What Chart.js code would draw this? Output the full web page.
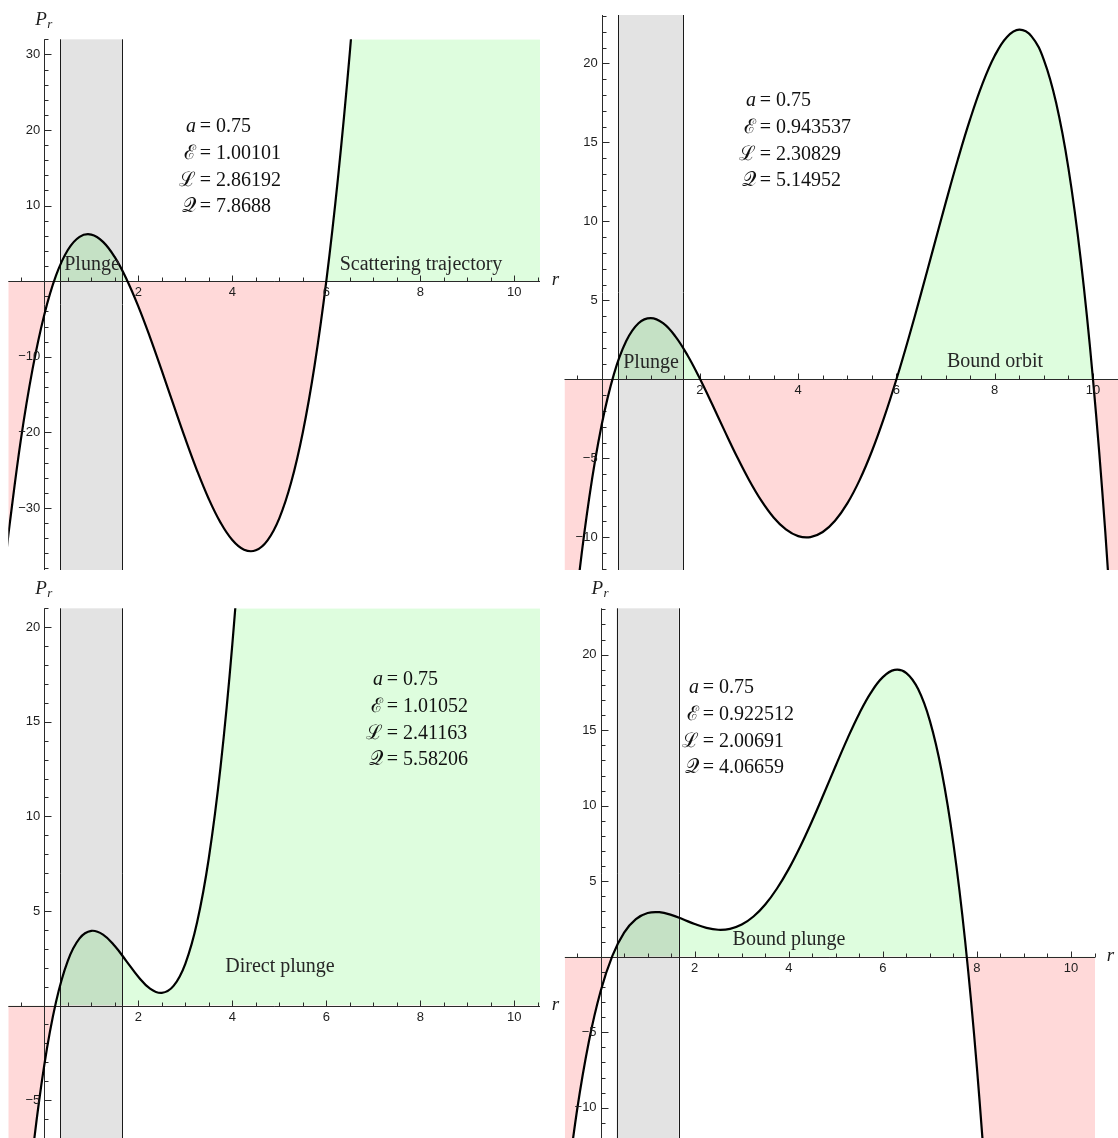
<!DOCTYPE html>
<html>
<head>
<meta charset="utf-8">
<script src="https://cdn.jsdelivr.net/npm/chart.js@4.4.1/dist/chart.umd.min.js"></script>
<style>
  html, body { margin: 0; padding: 0; background: #fff; overflow: hidden; width: 1118px; height: 1138px; }
  canvas { position: absolute; }
</style>
</head>
<body>
<canvas id="tl"></canvas>
<canvas id="tr"></canvas>
<canvas id="bl"></canvas>
<canvas id="br"></canvas>
<script>
// ---------------------------------------------------------------
// data: radial potential P_r(r)
// ---------------------------------------------------------------
const rTL = [-0.8, -0.75, -0.5, -0.25, 0, 0.25, 0.5, 0.75, 1, 1.25, 1.5, 1.75, 2, 2.25, 2.5, 2.75, 3, 3.25, 3.5, 3.75,
  4, 4.25, 4.5, 4.75, 5, 5.25, 5.5, 5.75, 6, 6.25, 6.5, 6.75, 7, 8, 9, 10, 10.6];
const pTL = [-35.448, -32.791, -21.016, -11.624, -4.426, 0.764, 4.135, 5.874, 6.169, 5.209, 3.180, 0.273, -3.324, -7.422,
  -11.832, -16.365, -20.832, -25.042, -28.806, -31.933, -34.234, -35.518, -35.595, -34.273, -31.361, -26.669, -20.005,
  -11.177, 0.006, 13.736, 30.206, 49.608, 72.133, 197.34, 387.98, 656.48, 860.12];

const rTR = [-0.8, -0.75, -0.5, -0.25, 0, 0.25, 0.5, 0.75, 1, 1.25, 1.5, 1.75, 2, 2.25, 2.5, 2.75, 3, 3.25, 3.5, 3.75,
  4, 4.25, 4.5, 4.75, 5, 5.25, 5.5, 5.75, 6, 6.25, 6.5, 6.75, 7, 7.25, 7.5, 7.75, 8, 8.25, 8.5, 8.75, 9, 9.25, 9.5,
  9.75, 10, 10.25, 10.5, 10.6];
const pTR = [-23.049, -21.271, -13.500, -7.443, -2.897, 0.331, 2.423, 3.551, 3.877, 3.553, 2.719, 1.506, 0.036, -1.581,
  -3.247, -4.870, -6.371, -7.681, -8.742, -9.502, -9.928, -9.988, -9.666, -8.953, -7.854, -6.380, -4.555, -2.413,
  0.002, 2.635, 5.424, 8.290, 11.151, 13.912, 16.465, 18.696, 20.477, 21.674, 22.135, 21.709, 20.225, 17.500, 13.365,
  7.602, 0.010, -9.632, -21.550, -27.009];

const rBL = [-0.8, -0.75, -0.5, -0.25, 0, 0.25, 0.5, 0.75, 1, 1.25, 1.5, 1.75, 2, 2.25, 2.5, 2.75, 3, 3.25, 3.5, 3.75,
  4, 4.25, 4.5, 5, 6, 8, 10, 10.6];
const pBL = [-23.888, -22.068, -14.088, -7.841, -3.140, 0.201, 2.369, 3.555, 3.951, 3.750, 3.147, 2.339, 1.523, 0.899,
  0.671, 1.040, 2.210, 4.390, 7.787, 12.612, 19.075, 27.389, 37.771, 65.60, 155.70, 524.36, 1244.8, 1548.3];

const rBR = [-0.8, -0.75, -0.5, -0.25, 0, 0.25, 0.5, 0.75, 1, 1.25, 1.5, 1.75, 2, 2.25, 2.5, 2.75, 3, 3.25, 3.5, 3.75,
  4, 4.25, 4.5, 4.75, 5, 5.25, 5.5, 5.75, 6, 6.25, 6.5, 6.75, 7, 7.25, 7.5, 7.75, 8, 8.25, 8.5, 9, 10, 10.6];
const pBR = [-17.433, -16.064, -10.148, -5.625, -2.287, 0.060, 1.599, 2.494, 2.898, 2.950, 2.774, 2.480, 2.166, 1.912,
  1.788, 1.848, 2.131, 2.665, 3.461, 4.518, 5.819, 7.336, 9.023, 10.823, 12.665, 14.461, 16.113, 17.506, 18.513,
  18.990, 18.782, 17.720, 15.618, 12.279, 7.490, 1.026, -7.355, -17.905, -30.894, -65.33, -176.82, -278.46];

// horizons r- and r+ for a = 0.75 (grey band)
const horizonInner = 0.339;
const horizonOuter = 1.661;

// tick labels
const xTicks = [2, 4, 6, 8, 10];
const yTicksTL = [-30, -20, -10, 10, 20, 30];
const yTicksTR = [-10, -5, 5, 10, 15, 20];
const yTicksBL = [-5, 5, 10, 15, 20];
const yTicksBR = [-10, -5, 5, 10, 15, 20];

// parameter boxes and region labels
const paramsTL = ['0.75', '1.00101', '2.86192', '7.8688'];
const paramsTR = ['0.75', '0.943537', '2.30829', '5.14952'];
const paramsBL = ['0.75', '1.01052', '2.41163', '5.58206'];
const paramsBR = ['0.75', '0.922512', '2.00691', '4.06659'];
const regionsTL = ['Plunge', 'Scattering trajectory'];
const regionsTR = ['Plunge', 'Bound orbit'];
const regionsBL = ['Direct plunge'];
const regionsBR = ['Bound plunge'];

// ---------------------------------------------------------------
// layout of the four panels (page pixels)
// ---------------------------------------------------------------
const GREEN = 'rgb(222,253,222)';
const PINK = 'rgb(255,217,217)';
const SERIF = '"Liberation Serif", "DejaVu Serif", serif';
const SANS = '"Liberation Sans", Arial, sans-serif';
const SYMBOLS = ['a', '\u2130', '\u2112', '\u{1D4AC}'];

const panels = [
  { id: 'tl', left: 0, top: 0, w: 570, h: 570, pad: { left: 8.3, right: 30, top: 39.3, bottom: 0 },
    xr: [-0.766, 10.547], yr: [-38.2, 32], r: rTL, p: pTL, yTicks: yTicksTL, yMinor: 2,
    params: paramsTL, px: 187, py: 127, regions: regionsTL, rpos: [[92, 265], [421, 265]], showP: true, showR: true },
  { id: 'tr', left: 559, top: 0, w: 562, h: 570, pad: { left: 5.5, right: 1, top: 15, bottom: 0 },
    xr: [-0.756, 10.55], yr: [-12.07, 23.06], r: rTR, p: pTR, yTicks: yTicksTR, yMinor: 1,
    params: paramsTR, px: 747, py: 101, regions: regionsTR, rpos: [[651, 363], [995, 362]], showP: false, showR: false },
  { id: 'bl', left: 0, top: 570, w: 570, h: 568, pad: { left: 8.3, right: 30, top: 38.3, bottom: 0 },
    xr: [-0.766, 10.547], yr: [-7.0, 21.0], r: rBL, p: pBL, yTicks: yTicksBL, yMinor: 1,
    params: paramsBL, px: 374, py: 680, regions: regionsBL, rpos: [[280, 967]], showP: true, showR: true },
  { id: 'br', left: 559, top: 570, w: 562, h: 568, pad: { left: 5.85, right: 26, top: 38.3, bottom: 0 },
    xr: [-0.76, 10.51], yr: [-12.0, 23.07], r: rBR, p: pBR, yTicks: yTicksBR, yMinor: 1,
    params: paramsBR, px: 690, py: 688, regions: regionsBR, rpos: [[789, 940]], showP: true, showR: true }
];

function fmt(v) {
  return v < 0 ? '\u2212' + Math.abs(v) : String(v);
}

function makePlugin(panel) {
  return {
    id: 'potential_' + panel.id,
    // grey band between the horizons, and the axes, under the curve
    beforeDatasetDraw(chart, args) {
      if (args.index !== 0) return;
      const { ctx, chartArea: a, scales: { x, y } } = chart;
      const x1 = x.getPixelForValue(horizonInner);
      const x2 = x.getPixelForValue(horizonOuter);
      ctx.save();
      ctx.fillStyle = 'rgba(0,0,0,0.11)';
      ctx.fillRect(x1, a.top, x2 - x1, a.bottom - a.top);
      ctx.strokeStyle = '#1a1a1a';
      ctx.lineWidth = 1;
      ctx.beginPath();
      [x1, x2].forEach(xx => {
        const px = Math.round(xx) + 0.5;
        ctx.moveTo(px, a.top);
        ctx.lineTo(px, a.bottom);
      });
      ctx.stroke();

      const x0 = Math.round(x.getPixelForValue(0)) + 0.5;
      const y0 = Math.round(y.getPixelForValue(0)) + 0.5;
      ctx.strokeStyle = '#2a2a2a';
      ctx.beginPath();
      ctx.moveTo(a.left, y0); ctx.lineTo(a.right, y0);
      ctx.moveTo(x0, a.top); ctx.lineTo(x0, a.bottom);
      // x ticks every 0.5, major ones at the labels
      for (let v = Math.ceil(panel.xr[0] * 2) / 2; v <= panel.xr[1] + 1e-6; v += 0.5) {
        if (Math.abs(v) < 1e-6) continue;
        const px = Math.round(x.getPixelForValue(v)) + 0.5;
        const len = xTicks.includes(v) ? 6 : 4;
        ctx.moveTo(px, y0); ctx.lineTo(px, y0 - len);
      }
      // y ticks
      for (let v = Math.ceil(panel.yr[0] / panel.yMinor) * panel.yMinor; v <= panel.yr[1] + 1e-6; v += panel.yMinor) {
        if (Math.abs(v) < 1e-6) continue;
        const py = Math.round(y.getPixelForValue(v)) + 0.5;
        const len = panel.yTicks.includes(v) ? 7 : 4;
        ctx.moveTo(x0, py); ctx.lineTo(x0 + len, py);
      }
      ctx.stroke();
      ctx.restore();
    },
    afterDatasetsDraw(chart) {
      const { ctx, chartArea: a, scales: { x, y } } = chart;
      const x0 = x.getPixelForValue(0);
      const y0 = y.getPixelForValue(0);
      const ox = panel.left, oy = panel.top;
      ctx.save();
      ctx.fillStyle = '#1e1e1e';
      ctx.font = '13px ' + SANS;
      ctx.textAlign = 'center';
      ctx.textBaseline = 'top';
      xTicks.forEach(v => ctx.fillText(fmt(v), x.getPixelForValue(v), y0 + 5));
      ctx.textAlign = 'right';
      ctx.textBaseline = 'middle';
      panel.yTicks.forEach(v => ctx.fillText(fmt(v), x0 - 4, y.getPixelForValue(v)));

      // axis labels
      if (panel.showP) {
        ctx.textAlign = 'left';
        ctx.textBaseline = 'alphabetic';
        ctx.font = 'italic 19px ' + SERIF;
        ctx.fillText('P', x0 - 9, a.top - 14);
        ctx.font = 'italic 13px ' + SERIF;
        ctx.fillText('r', x0 + 3, a.top - 11);
      }
      if (panel.showR) {
        ctx.font = 'italic 19px ' + SERIF;
        ctx.textAlign = 'center';
        ctx.textBaseline = 'middle';
        ctx.fillText('r', a.right + 15.5, y0 - 1);
      }

      // parameter block
      ctx.fillStyle = '#111';
      ctx.textBaseline = 'middle';
      panel.params.forEach((val, i) => {
        const yy = panel.py - oy + i * 26.7;
        const xx = panel.px - ox;
        ctx.font = (i === 0 ? 'italic ' : '') + '20px ' + SERIF;
        ctx.textAlign = 'right';
        ctx.fillText(SYMBOLS[i], xx + 9, yy);
        ctx.font = '20px ' + SERIF;
        ctx.textAlign = 'center';
        ctx.fillText('=', xx + 18.5, yy);
        ctx.textAlign = 'left';
        ctx.fillText(val, xx + 29, yy);
      });

      // region labels
      ctx.fillStyle = '#262626';
      ctx.font = '20px ' + SERIF;
      ctx.textAlign = 'center';
      panel.regions.forEach((txt, i) => {
        ctx.fillText(txt, panel.rpos[i][0] - ox, panel.rpos[i][1] - oy);
      });
      ctx.restore();
    }
  };
}

panels.forEach(panel => {
  const canvas = document.getElementById(panel.id);
  canvas.width = panel.w;
  canvas.height = panel.h;
  canvas.style.left = panel.left + 'px';
  canvas.style.top = panel.top + 'px';
  canvas.style.width = panel.w + 'px';
  canvas.style.height = panel.h + 'px';

  const pts = panel.r.map((rv, i) => ({ x: rv, y: panel.p[i] }));

  new Chart(canvas.getContext('2d'), {
    type: 'line',
    data: {
      datasets: [
        { // curve
          data: pts, borderColor: '#000', borderWidth: 2.2, pointRadius: 0,
          fill: false, tension: 0.4, clip: 0
        },
        { // region shading between curve and axis
          data: pts, borderWidth: 0, borderColor: 'rgba(0,0,0,0)', pointRadius: 0,
          fill: { target: 'origin', above: GREEN, below: PINK }, tension: 0.4, clip: 0
        }
      ]
    },
    options: {
      responsive: false,
      animation: false,
      devicePixelRatio: 1,
      layout: { padding: panel.pad },
      elements: { line: { capBezierPoints: false } },
      plugins: { legend: { display: false }, tooltip: { enabled: false } },
      scales: {
        x: { type: 'linear', min: panel.xr[0], max: panel.xr[1], display: false },
        y: { type: 'linear', min: panel.yr[0], max: panel.yr[1], display: false }
      }
    },
    plugins: [makePlugin(panel)]
  });
});
</script>
</body>
</html>
